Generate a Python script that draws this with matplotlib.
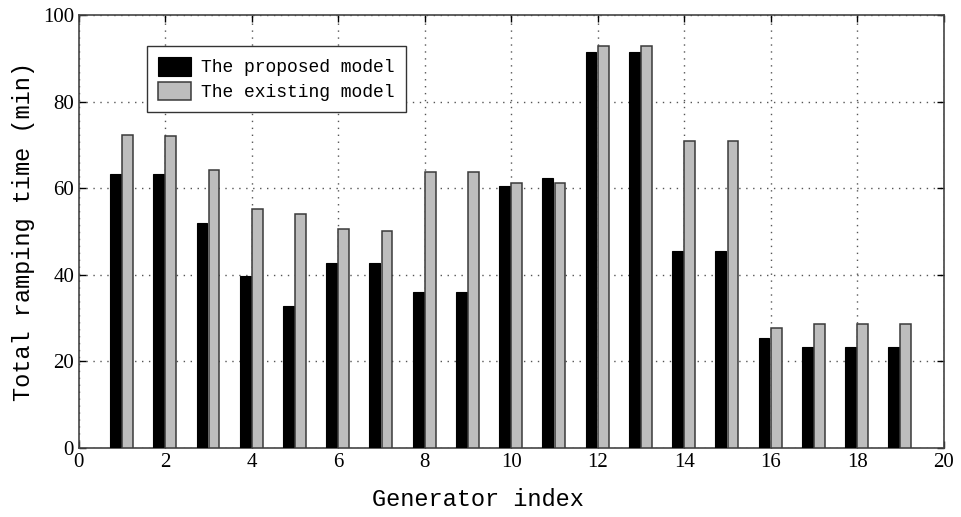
import numpy as np
import matplotlib
matplotlib.use("Agg")
import matplotlib.pyplot as plt

# generator data
generators = np.arange(1, 20)
proposed = [63.2, 63.2, 51.9, 39.8, 32.9, 42.7, 42.7, 36.1, 36.1, 60.5,
            62.3, 91.5, 91.5, 45.5, 45.5, 25.4, 23.4, 23.4, 23.4]
existing = [72.3, 72.1, 64.2, 55.2, 54.0, 50.5, 50.2, 63.8, 63.8, 61.3,
            61.3, 92.8, 92.8, 70.9, 70.9, 27.7, 28.6, 28.6, 28.6]
xticks = np.arange(0, 21, 2)
yticks = np.arange(0, 101, 20)

mono = "Liberation Mono"
serif = "Liberation Serif"

fig = plt.figure(figsize=(9.62, 5.17), dpi=100)
ax = fig.add_axes([0.082, 0.1335, 0.899, 0.8375])

w = 0.25
ax.bar(generators - 0.155, proposed, width=w, color="black", edgecolor="black",
       linewidth=0.8, label="The proposed model", zorder=3)
ax.bar(generators + 0.125, existing, width=w, color="#bdbdbd", edgecolor="#3a3a3a",
       linewidth=1.1, label="The existing model", zorder=3)

ax.set_xlim(0, 20)
ax.set_ylim(0, 100)
ax.set_xticks(xticks)
ax.set_yticks(yticks)
ax.grid(True, linestyle=(0, (1, 4)), color="#555555", linewidth=1.0, zorder=0)
ax.tick_params(direction="in", top=True, right=True, length=5, width=1,
               labelsize=15)
for lab in ax.get_xticklabels() + ax.get_yticklabels():
    lab.set_family(serif)
for s in ax.spines.values():
    s.set_color("#444444")
    s.set_linewidth(1.2)

ax.set_xlabel("Generator index", fontsize=17, family=mono)
ax.xaxis.set_label_coords(0.461, -0.092)
ax.set_ylabel("Total ramping time (min)", fontsize=17, family=mono, labelpad=6)

leg = ax.legend(loc="upper left", bbox_to_anchor=(0.079, 0.928), frameon=True,
                fancybox=False, edgecolor="#333333", framealpha=1,
                prop={"family": mono, "size": 13}, handlelength=1.8,
                handleheight=1.2, handletextpad=0.6, borderaxespad=0,
                borderpad=0.6, labelspacing=0.3)
leg.get_frame().set_linewidth(1.0)

fig.savefig("out.png", dpi=100)
